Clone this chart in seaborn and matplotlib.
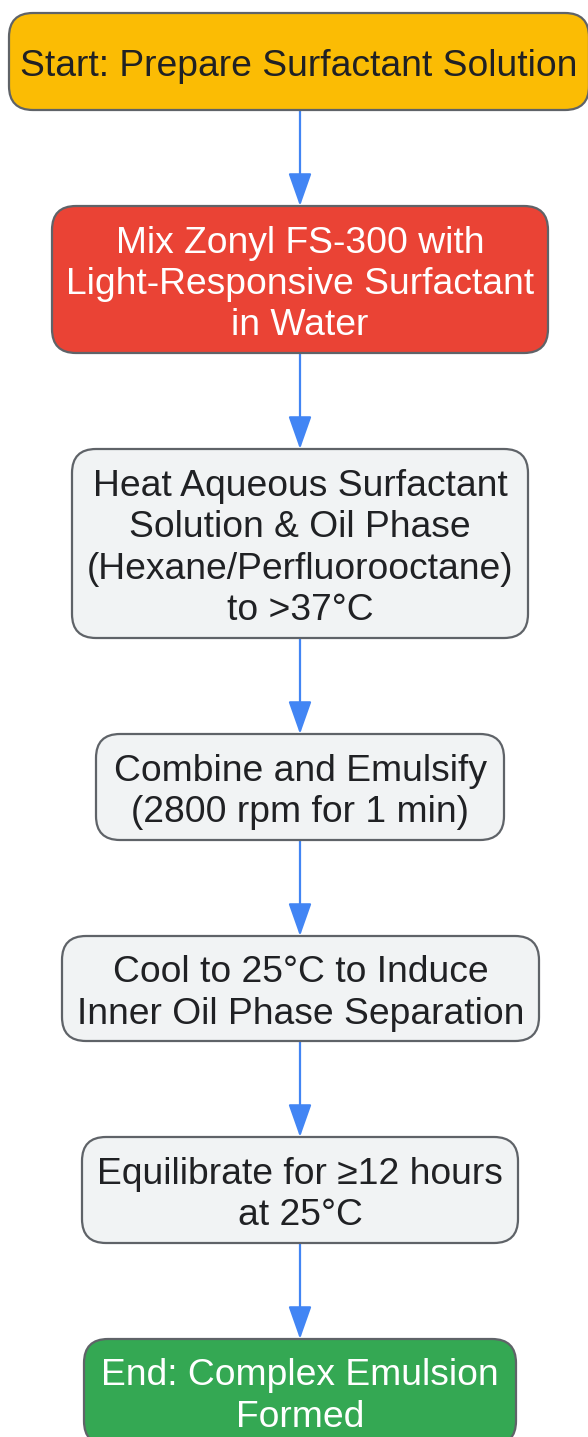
import matplotlib
matplotlib.use("Agg")
import matplotlib.pyplot as plt
from matplotlib.patches import FancyBboxPatch
import seaborn as sns

# ---- data ----
steps = [
    "Start: Prepare Surfactant Solution",
    "Mix Zonyl FS-300 with\nLight-Responsive Surfactant\nin Water",
    "Heat Aqueous Surfactant\nSolution & Oil Phase\n(Hexane/Perfluorooctane)\nto >37°C",
    "Combine and Emulsify\n(2800 rpm for 1 min)",
    "Cool to 25°C to Induce\nInner Oil Phase Separation",
    "Equilibrate for ≥12 hours\nat 25°C",
    "End: Complex Emulsion\nFormed",
]
fills = ["#FBBC04", "#EA4335", "#F1F3F4", "#F1F3F4", "#F1F3F4", "#F1F3F4", "#34A853"]
text_colors = ["#202124", "#FFFFFF", "#202124", "#202124", "#202124", "#202124", "#FFFFFF"]

# ---- layout (pixels: x0, x1, y0, y1) ----
boxes = [
    (9, 589, 13, 110),
    (52, 548, 206, 353),
    (72, 528, 449, 638),
    (96, 504, 734, 840),
    (62, 539, 936, 1041),
    (82, 518, 1137, 1243),
    (84, 516, 1339, 1445),
]

sns.set_theme(style="white")
plt.rcParams["font.family"] = ["Liberation Sans", "DejaVu Sans"]

W, H = 588, 1437
fig = plt.figure(figsize=(W / 100, H / 100), dpi=100)
ax = fig.add_axes([0, 0, 1, 1])
ax.set_xlim(0, W)
ax.set_ylim(H, 0)
ax.axis("off")

r = 24
for i, ((x0, x1, y0, y1), label, fc, tc) in enumerate(zip(boxes, steps, fills, text_colors)):
    p = FancyBboxPatch((x0 + r, y0 + r), (x1 - x0) - 2 * r, (y1 - y0) - 2 * r,
                       boxstyle=f"round,pad={r}", fc=fc, ec="#5F6368", lw=1.6,
                       mutation_aspect=1, zorder=2)
    ax.add_patch(p)
    yc = (y0 + y1) / 2 + 5
    if i == len(boxes) - 1:
        yc = 1396.5
    ax.text((x0 + x1) / 2, yc, label, ha="center", va="center",
            fontsize=26.8, color=tc, linespacing=1.24, zorder=3)

for (a, b) in zip(boxes[:-1], boxes[1:]):
    ax.annotate("", xy=(300, b[2]), xytext=(300, a[3]),
                arrowprops=dict(arrowstyle="-|>,head_length=1.7,head_width=0.6",
                                color="#4285F4", lw=1.6, shrinkA=0, shrinkB=0),
                zorder=1)

fig.savefig("out.png", dpi=100, facecolor="white")
